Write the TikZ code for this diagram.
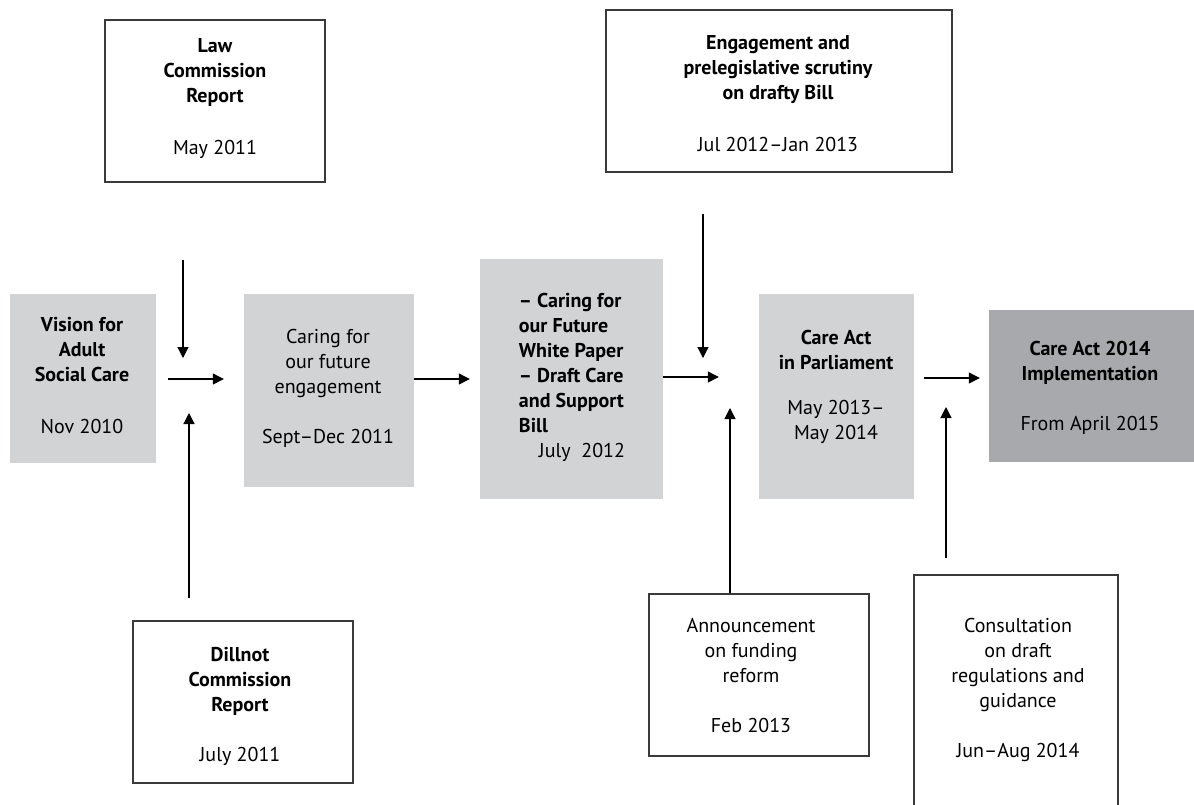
\documentclass[tikz,border=0pt]{standalone}
\usepackage{fontspec}
\setmainfont{PT Sans}
\usetikzlibrary{arrows.meta}
\definecolor{lightbox}{HTML}{D1D3D4}
\definecolor{darkbox}{HTML}{A7A9AC}
\definecolor{edgegrey}{HTML}{3A3A3A}
\tikzset{
  whitebox/.style={draw=edgegrey, line width=1.2pt, fill=white, rectangle, inner sep=0pt},
  greybox/.style={draw=none, fill=lightbox, rectangle, inner sep=0pt},
  darkgreybox/.style={draw=none, fill=darkbox, rectangle, inner sep=0pt},
  label text/.style={align=center, inner sep=0pt, font=\fontsize{20}{25}\selectfont},
  bold text/.style={label text, font=\fontsize{20}{25}\selectfont\bfseries},
  arr/.style={line width=1.2pt, -{Triangle[length=11pt,width=11pt]}},
}
\begin{document}
\begin{tikzpicture}[x=1pt,y=-1pt]
\useasboundingbox (0,0) rectangle (1194,804);
% boxes
\node[whitebox, minimum width=220pt, minimum height=162pt] (law) at (215,101) {};
\node[whitebox, minimum width=346pt, minimum height=162pt] (eng) at (779,91) {};
\node[greybox, minimum width=146pt, minimum height=169pt] (vision) at (83,378.5) {};
\node[greybox, minimum width=170pt, minimum height=193pt] (caring) at (329,390.5) {};
\node[greybox, minimum width=183pt, minimum height=240pt] (wp) at (571.5,379) {};
\node[greybox, minimum width=155pt, minimum height=205pt] (parl) at (836.5,396.5) {};
\node[darkgreybox, minimum width=206pt, minimum height=152pt] (impl) at (1092,386) {};
\node[whitebox, minimum width=220pt, minimum height=162pt] (dill) at (243,702) {};
\node[whitebox, minimum width=220pt, minimum height=162pt] (ann) at (759,675) {};
\node[whitebox, minimum width=204pt, minimum height=250pt] (cons) at (1016,700) {};
% texts
\node[bold text] (lawT) at (215,99) {Law\\Commission\\Report\\[27pt]\mdseries May 2011};
\node[bold text] (engT) at (778,94) {Engagement and\\prelegislative scrutiny\\on drafty Bill\\[27pt]\mdseries Jul 2012--Jan 2013};
\node[bold text] (visionT) at (82,376) {Vision for\\Adult\\Social Care\\[27pt]\mdseries Nov 2010};
\node[label text] (caringT) at (328,388) {Caring for\\our future\\engagement\\[25pt]Sept--Dec 2011};
\node[bold text, align=left] (wpT) at (572,377) {-- Caring for\\our Future\\White Paper\\-- Draft Care\\and Support\\Bill\\\mdseries\hspace*{20pt}July\ \ 2012};
\node[bold text] (parlT) at (836,387) {Care Act\\in Parliament\\[20pt]\mdseries May 2013--\\\mdseries May 2014};
\node[bold text] (implT) at (1090,388) {Care Act 2014\\Implementation\\[25pt]\mdseries From April 2015};
\node[bold text] (dillT) at (240,706) {Dillnot\\Commission\\Report\\[25pt]\mdseries July 2011};
\node[label text] (annT) at (751,675) {Announcement\\on funding\\reform\\[25pt]Feb 2013};
\node[label text] (consT) at (1018,690) {Consultation\\on draft\\regulations and\\guidance\\[25pt]Jun--Aug 2014};
% arrow tips
\coordinate (lawtip) at (183,358);
\coordinate (dilltip) at (189,413);
\coordinate (engtip) at (703,358);
\coordinate (anntip) at (730,408);
\coordinate (constip) at (946,407);
\coordinate (row1) at (0,379);
\coordinate (row2) at (0,377);
\coordinate (row3) at (0,378);
% connectors
\draw[arr, shorten <=77pt] (law.south -| lawtip) -- (lawtip);
\draw[arr, shorten <=22pt] (dill.north -| dilltip) -- (dilltip);
\draw[arr, shorten <=12pt, shorten >=20pt] (vision.east |- row1) -- (caring.west |- row1);
\draw[arr, shorten >=10pt] (caring.east |- row1) -- (wp.west |- row1);
\draw[arr, shorten >=40pt] (wp.east |- row2) -- (parl.west |- row2);
\draw[arr, shorten <=41pt] (eng.south -| engtip) -- (engtip);
\draw[arr] (ann.north -| anntip) -- (anntip);
\draw[arr, shorten <=10pt, shorten >=9pt] (parl.east |- row3) -- (impl.west |- row3);
\draw[arr, shorten <=16pt] (cons.north -| constip) -- (constip);
\end{tikzpicture}
\end{document}
